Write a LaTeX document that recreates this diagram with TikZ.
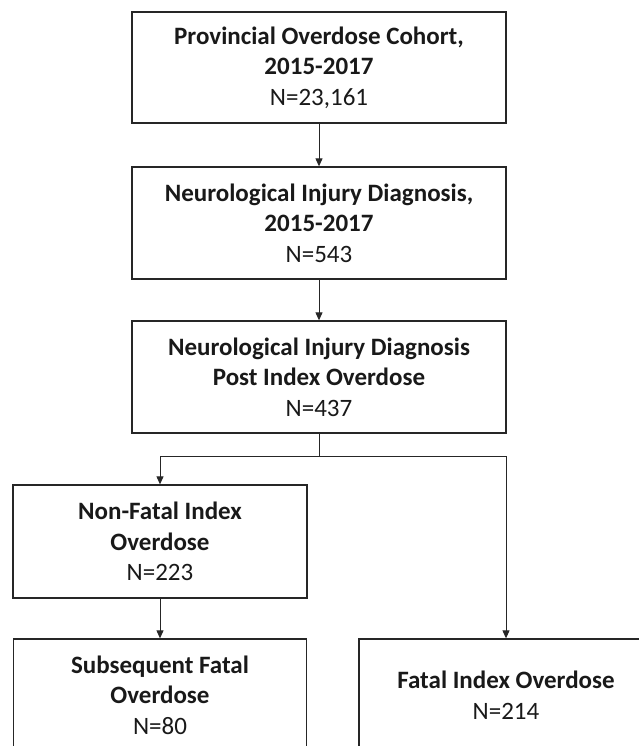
\documentclass[tikz,border=0pt]{standalone}
\usepackage{fontspec}
\setmainfont{Carlito}
\usetikzlibrary{arrows.meta}
\tikzset{
  flowbox/.style={draw=black!85, line width=1.3pt, rectangle, align=center,
    inner sep=0pt, font=\fontsize{25}{30.5}\selectfont, text=black!90},
  conn/.style={draw=black!85, line width=1pt, -{Triangle[length=8pt,width=7pt]}},
  plain/.style={draw=black!85, line width=1pt}
}
\begin{document}
\begin{tikzpicture}[x=1pt,y=1pt]
\useasboundingbox (0,0) rectangle (639,-746);
\clip (0,0) rectangle (639,-746);
\node[flowbox, minimum width=374pt, minimum height=111pt] (b1) at (319,-67.5)
  {\textbf{Provincial Overdose Cohort,}\\\textbf{2015-2017}\\N=23,161};
\node[flowbox, minimum width=374pt, minimum height=112pt] (b2) at (319,-223)
  {\textbf{Neurological Injury Diagnosis,}\\\textbf{2015-2017}\\N=543};
\node[flowbox, minimum width=374pt, minimum height=112pt] (b3) at (319,-377)
  {\textbf{Neurological Injury Diagnosis}\\\textbf{Post Index Overdose}\\N=437};
\node[flowbox, minimum width=294pt, minimum height=113pt] (b4) at (160,-541.5)
  {\textbf{Non-Fatal Index}\\\textbf{Overdose}\\N=223};
\node[flowbox, minimum width=293pt, minimum height=112pt] (b5) at (160,-695)
  {\textbf{Subsequent Fatal}\\\textbf{Overdose}\\N=80};
\node[flowbox, minimum width=294pt, minimum height=112pt] (b6) at (506,-695)
  {\textbf{Fatal Index Overdose}\\N=214};
\coordinate (split) at (319,-456);
\draw[conn] (b1.south) -- (b2.north);
\draw[conn] (b2.south) -- (b3.north);
\draw[plain] (b3.south) -- (split);
\draw[conn] (split) -| (b4.north);
\draw[conn] (split) -| (b6.north);
\draw[conn] (b4.south) -- (b5.north);
\end{tikzpicture}
\end{document}
